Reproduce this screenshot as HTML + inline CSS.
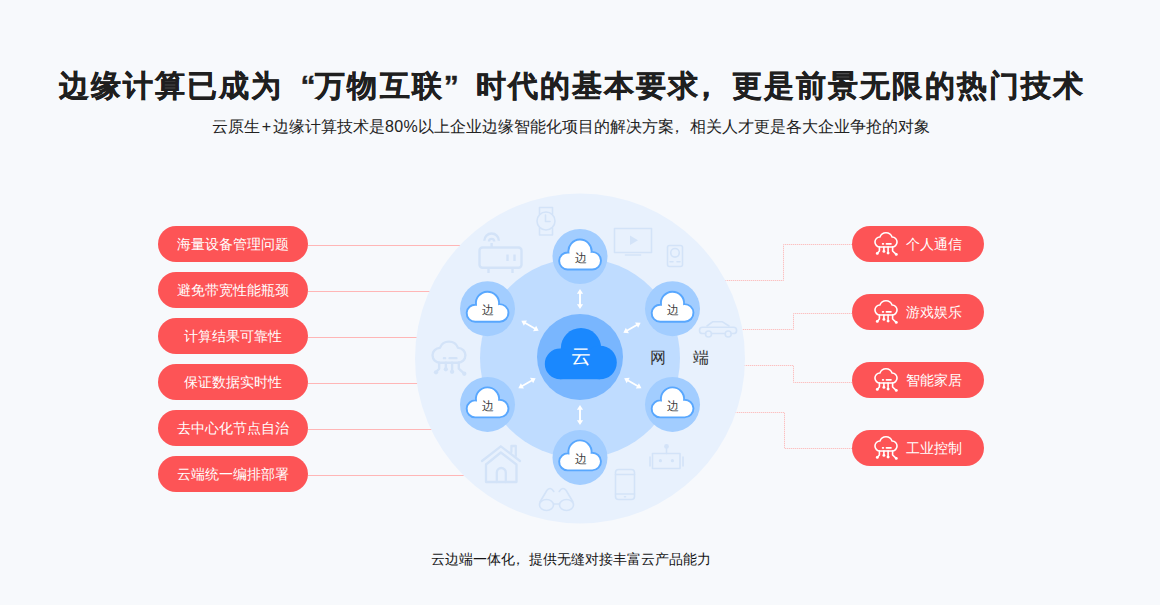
<!DOCTYPE html>
<html><head><meta charset="utf-8">
<style>
html,body{margin:0;padding:0;}
body{width:1160px;height:605px;overflow:hidden;position:relative;background:#f7f9fc;font-family:"Liberation Sans",sans-serif;}
.t{position:absolute;white-space:nowrap;}
#title{left:59px;top:66px;font-size:30px;line-height:40px;font-weight:bold;color:#1f1f1f;letter-spacing:2.06px;-webkit-text-stroke:0.4px #1f1f1f;}
#sub{left:212px;top:116px;font-size:16px;line-height:22px;color:#222;}
#foot{left:431px;top:548.6px;font-size:14px;line-height:20px;color:#141414;}
.pl{position:absolute;left:158px;width:150px;height:36px;border-radius:18px;background:#fd5456;color:#fff;font-size:14px;line-height:36px;text-align:center;}
.pr{position:absolute;left:852px;width:132px;height:36px;border-radius:18px;background:#fd5456;color:#fff;font-size:14px;line-height:36px;}
.pr span{position:absolute;left:54px;top:0;}
.pr svg{position:absolute;left:21px;top:6px;overflow:visible;}
svg#d{position:absolute;left:0;top:0;}
.ql{display:inline-block;width:32px;text-align:right;letter-spacing:0;}
.qr{display:inline-block;width:32px;text-align:left;letter-spacing:0;}
.pl2{display:inline-block;width:13px;text-align:center;}
.n80{letter-spacing:0.4px;}
.cm{position:relative;left:-0.31em;}
</style></head>
<body>
<div class="t" id="title">边缘计算已成为<span class="ql">“</span>万物互联<span class="qr">”</span>时代的基本要求<span class="cm" style="left:-9px">，</span>更是前景无限的热门技术</div>
<div class="t" id="sub">云原生<span class="pl2">+</span>边缘计算技术是<span class="n80">80%</span>以上企业边缘智能化项目的解决方案<span class="cm">，</span>相关人才更是各大企业争抢的对象</div>

<svg id="d" width="1160" height="605" viewBox="0 0 1160 605">
  <!-- left solid lines -->
  <g stroke="#ffb6b6" stroke-width="1">
    <line x1="308" y1="245.5" x2="580" y2="245.5"/>
    <line x1="308" y1="291.5" x2="580" y2="291.5"/>
    <line x1="308" y1="337.5" x2="580" y2="337.5"/>
    <line x1="308" y1="383.5" x2="580" y2="383.5"/>
    <line x1="308" y1="429.5" x2="580" y2="429.5"/>
    <line x1="308" y1="475.5" x2="580" y2="475.5"/>
  </g>
  <!-- right dotted elbow lines -->
  <g stroke="#f9e6e8" stroke-width="1" fill="none">
    <polyline points="852,244.5 783.5,244.5 783.5,280.5 600,280.5"/>
    <polyline points="852,313.5 793.5,313.5 793.5,329.5 600,329.5"/>
    <polyline points="852,382.5 793.5,382.5 793.5,365.5 600,365.5"/>
    <polyline points="852,448.5 784.5,448.5 784.5,412.5 600,412.5"/>
  </g>
  <g stroke="#fbc2c2" stroke-width="1" fill="none" stroke-dasharray="1 1">
    <polyline points="852,244.5 783.5,244.5 783.5,280.5 600,280.5"/>
    <polyline points="852,313.5 793.5,313.5 793.5,329.5 600,329.5"/>
    <polyline points="852,382.5 793.5,382.5 793.5,365.5 600,365.5"/>
    <polyline points="852,448.5 784.5,448.5 784.5,412.5 600,412.5"/>
  </g>
  <!-- circles -->
  <circle cx="580" cy="358.5" r="165" fill="#e8f1fd"/>
  <!-- device icons -->
  <g fill="none" stroke="#d3e3f8" stroke-width="1.6" stroke-linecap="round" stroke-linejoin="round">
    <!-- watch -->
    <path d="M539.5 214 V207.5 H552.5 V214 M539.5 228 V235 H552.5 V228"/>
    <circle cx="546" cy="221" r="9"/>
    <path d="M545.5 215 V221.5 H550"/>
    <!-- router -->
    <g stroke-width="2.4">
    <rect x="479.5" y="247.5" width="42" height="20.2" rx="3"/>
    <path d="M488.5 268.5 V273 M512.5 268.5 V273 M507.5 254.5 V261 M514.5 254.5 V261 M491.6 243 V247" stroke-linecap="butt"/>
    <path d="M484.3 240.8 A7.3 7.3 0 0 1 498.9 240.8" stroke-linecap="butt"/>
    <path d="M489 241.5 A2.6 2.6 0 0 1 494.2 241.5" stroke-linecap="butt"/>
    </g>
    <!-- TV -->
    <rect x="614.5" y="228.5" width="37" height="24"/>
    <path d="M625.5 255 H640.5"/>
    <!-- speaker -->
    <rect x="667.5" y="245.5" width="15" height="21" rx="2"/>
    <circle cx="675" cy="252.8" r="4.3"/>
    <path d="M670 261.7 H673 M677 261.7 H680"/>
    <!-- cloud net -->
    <!-- car -->
    <path d="M707 326 L712.5 321.8 H722.5 L729 326"/>
    <path d="M705.5 333.5 H702.5 Q699.5 333.5 699.5 330.4 Q699.5 327.3 702.5 327.3 H733.5 Q736.6 327.3 736.6 330.4 Q736.6 333.5 733.5 333.5 H731.2 M725.2 333.5 H711.5"/>
    <circle cx="708.5" cy="334" r="3"/>
    <circle cx="728.2" cy="334" r="3"/>
    <!-- house -->
    <g stroke-width="2.3">
    <path d="M482 461 L500.8 446.3 L520 461"/>
    <path d="M486 482 V464.5 L500.8 452.5 L516.5 464.5 V482 Z"/>
    <path d="M496.8 482 V472.5 A4.5 4.5 0 0 1 505.8 472.5 V482"/>
    <path d="M511.4 452 V446 H515.8 V456"/>
    </g>
    <!-- glasses -->
    <ellipse cx="546.5" cy="505" rx="7" ry="5.5"/>
    <ellipse cx="566.5" cy="505" rx="7" ry="5.5"/>
    <path d="M553.5 504 H559.5 M540 502 L546.8 490.5 Q550.3 486 553.8 491.5 M573 502 L566.2 490.5 Q562.7 486 559.2 491.5"/>
    <!-- phone -->
    <rect x="615.5" y="469.5" width="19" height="30" rx="3"/>
    <path d="M615.5 474.5 H634.5 M615.5 494 H634.5 M624.5 496.8 H625.5"/>
    <!-- robot -->
    <rect x="652.5" y="453.5" width="27.5" height="15"/>
    <path d="M666.5 449 V453.5 M650 457 V466 M683 457 V466"/>
  </g>
  <g fill="#d3e3f8">
    <path d="M630 235.5 L638 240.3 L630 245 Z"/>
    <circle cx="666.5" cy="446.5" r="2.4"/>
    <circle cx="660.4" cy="460.7" r="1.6"/>
    <circle cx="672.4" cy="460.7" r="1.6"/>
  </g>
  <use href="#ic" transform="translate(429.6 340.4) scale(1.49)" style="color:#d3e3f8"/>
  <circle cx="580" cy="358" r="100" fill="#bfdcff"/>
  <circle cx="580" cy="357" r="43" fill="#79b6fe"/>
  <!-- center cloud -->
  <g fill="#1a88fe">
    <circle cx="581" cy="348.2" r="20.2"/>
    <circle cx="560.1" cy="363.9" r="15.3"/>
    <circle cx="600" cy="362.5" r="16.8"/>
    <rect x="560" y="350" width="40" height="29.2"/>
  </g>
  <!-- arrows -->
  <defs>
    <g id="arr">
      <path d="M0 -6 V6" stroke="#fff" stroke-width="1.9"/>
      <path d="M-3.1 -5.3 L0 -10 L3.1 -5.3 Z M-3.1 5.3 L0 10 L3.1 5.3 Z" fill="#fff"/>
    </g>
    <g id="node">
      <circle cx="0" cy="0" r="27.5" fill="#a2cdff"/>
      <path d="M-12.3 13 A8.5 8.5 0 1 1 -11.51 -3.96 A11.6 11.6 0 1 1 11.57 -4.58 A8.8 8.8 0 1 1 12.2 13 Z" fill="#fff" stroke="#58a7fe" stroke-width="1.9"/>
    </g>
  </defs>
  <use href="#arr" transform="translate(580 299)"/>
  <use href="#arr" transform="translate(580 415)"/>
  <use href="#arr" transform="translate(530 325.8) rotate(-60)"/>
  <use href="#arr" transform="translate(632 327.8) rotate(60)"/>
  <use href="#arr" transform="translate(527 383.2) rotate(60)"/>
  <use href="#arr" transform="translate(632.8 383.2) rotate(-60)"/>
  <use href="#node" transform="translate(580 256.5)"/>
  <use href="#node" transform="translate(580 457.4)"/>
  <use href="#node" transform="translate(487.5 308.7)"/>
  <use href="#node" transform="translate(672.5 308.7)"/>
  <use href="#node" transform="translate(487.5 404.4)"/>
  <use href="#node" transform="translate(672.5 404.4)"/>
  <g font-family="Liberation Sans, sans-serif" font-size="12" fill="#404040" text-anchor="middle">
    <text x="580.6" y="261.6">边</text>
    <text x="580.6" y="462.6">边</text>
    <text x="488.1" y="313.6">边</text>
    <text x="673.1" y="313.6">边</text>
    <text x="488.1" y="409.6">边</text>
    <text x="673.1" y="409.6">边</text>
  </g>
  <text x="581" y="362.8" font-family="Liberation Sans, sans-serif" font-size="20" font-weight="500" fill="#fff" text-anchor="middle">云</text>
  <text x="658.2" y="363" font-family="Liberation Sans, sans-serif" font-size="16" font-weight="500" fill="#333" text-anchor="middle">网</text>
  <text x="700.6" y="362.8" font-family="Liberation Sans, sans-serif" font-size="16" font-weight="500" fill="#333" text-anchor="middle">端</text>
</svg>

<div class="pl" style="top:226px">海量设备管理问题</div>
<div class="pl" style="top:272px">避免带宽性能瓶颈</div>
<div class="pl" style="top:318px">计算结果可靠性</div>
<div class="pl" style="top:364px">保证数据实时性</div>
<div class="pl" style="top:410px">去中心化节点自治</div>
<div class="pl" style="top:456px">云端统一编排部署</div>

<div class="pr" style="top:226px"><svg width="26" height="26" viewBox="0 0 26 26" style="color:#fff"><use href="#ic"/></svg><span>个人通信</span></div>
<div class="pr" style="top:294px"><svg width="26" height="26" viewBox="0 0 26 26" style="color:#fff"><use href="#ic"/></svg><span>游戏娱乐</span></div>
<div class="pr" style="top:362px"><svg width="26" height="26" viewBox="0 0 26 26" style="color:#fff"><use href="#ic"/></svg><span>智能家居</span></div>
<div class="pr" style="top:430px"><svg width="26" height="26" viewBox="0 0 26 26" style="color:#fff"><use href="#ic"/></svg><span>工业控制</span></div>

<svg width="0" height="0" style="position:absolute">
  <defs>
    <g id="ic" fill="none" stroke="currentColor" stroke-width="1.6" stroke-linecap="round" stroke-linejoin="round">
      <path d="M7 15 A5 5 0 0 1 6.92 5 A6.5 6.5 0 0 1 19.08 5 A5 5 0 0 1 19 15 Z"/>
      <path d="M9.6 11.9 H10.4 M13.4 11.9 H18"/>
      <path d="M6.4 15 V19 L4.3 21.3 M10.9 15 V19.3 M15.1 15 V21 M19.6 15 V19 L23.2 22.3"/>
      <g fill="currentColor" stroke="none">
        <circle cx="4.3" cy="21.4" r="1.45"/><circle cx="10.9" cy="19.4" r="1.45"/><circle cx="15.1" cy="21.1" r="1.45"/><circle cx="23.3" cy="22.4" r="1.45"/>
      </g>
    </g>
  </defs>
</svg>

<div class="t" id="foot">云边端一体化<span class="cm">，</span>提供无缝对接丰富云产品能力</div>
</body></html>
